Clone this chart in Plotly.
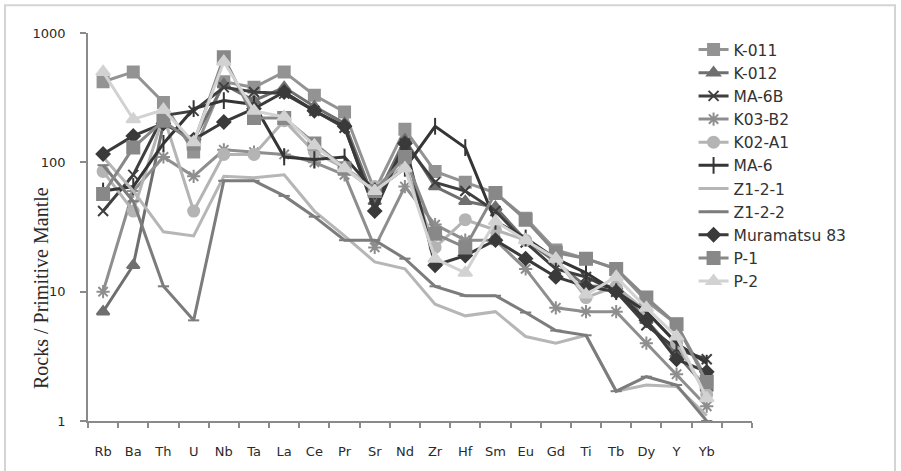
import plotly.graph_objects as go

# Trace elements, normalised to primitive mantle
elements = ["Rb", "Ba", "Th", "U", "Nb", "Ta", "La", "Ce", "Pr", "Sr", "Nd",
            "Zr", "Hf", "Sm", "Eu", "Gd", "Ti", "Tb", "Dy", "Y", "Yb"]

k_011 = [420, 500, 290, 120, 420, 380, 500, 330, 245, 60, 180, 85, 70, 58, 37, 21, 18, 15, 8.5, 5.6, 2.1]
k_012 = [7, 16, 200, 150, 400, 300, 380, 270, 200, 50, 150, 65, 50, 45, 25, 17, 11, 11, 6, 3.3, 1.8]
ma_6b = [42, 80, 230, 250, 380, 350, 340, 250, 185, 45, 140, 70, 60, 42, 24, 15, 13, 10, 5.5, 3.6, 3.0]
k03_b2 = [10, 60, 110, 78, 125, 120, 115, 100, 80, 22, 65, 33, 25, 25, 15, 7.5, 7, 7, 4, 2.3, 1.3]
k02_a1 = [85, 42, 230, 42, 115, 115, 210, 120, 90, 65, 95, 22, 36, 30, 25, 18, 9, 11, 7, 4, 1.6]
ma_6 = [60, 65, 140, 260, 300, 280, 110, 105, 110, 60, 90, 190, 130, 35, 26, 18, 14, 10, 7, 4, 2.8]
z1_2_1 = [110, 60, 29, 27, 78, 76, 80, 42, 27, 17, 15, 8, 6.5, 7, 4.5, 4, 4.6, 1.7, 1.9, 1.85, 1.1]
z1_2_2 = [95, 50, 11, 6, 72, 72, 55, 38, 25, 25, 18, 11, 9.3, 9.3, 6.9, 5, 4.6, 1.7, 2.2, 1.9, 1.0]
muramatsu_83 = [116, 160, 200, 150, 205, 260, 350, 250, 190, 42, 140, 16, 19, 25, 18, 13, 11, 10, 6, 3, 2.4]
p_1 = [57, 130, 210, 140, 650, 220, 220, 140, 90, 60, 110, 28, 22, 58, 36, 20, 18, 15, 9, 5.6, 2.0]
p_2 = [500, 215, 255, 143, 600, 250, 225, 135, 90, 60, 90, 18, 14, 35, 25, 18, 9.5, 13, 7.5, 4.5, 1.5]

series = [
    ("K-011", k_011, "#939393", "square", 11),
    ("K-012", k_012, "#6f6f6f", "triangle-up", 11),
    ("MA-6B", ma_6b, "#3f3f3f", "x-thin-open", 10),
    ("K03-B2", k03_b2, "#8e8e8e", "asterisk-open", 11),
    ("K02-A1", k02_a1, "#b4b4b4", "circle", 11),
    ("MA-6", ma_6, "#353535", "line-ns-open", 12),
    ("Z1-2-1", z1_2_1, "#b6b6b6", None, 0),
    ("Z1-2-2", z1_2_2, "#7c7c7c", "line-ew-open", 8),
    ("Muramatsu 83", muramatsu_83, "#3a3a3a", "diamond", 10),
    ("P-1", p_1, "#888888", "square", 12),
    ("P-2", p_2, "#d2d2d2", "triangle-up", 12),
]

x_pos = list(range(len(elements)))

fig = go.Figure()
for name, vals, color, symbol, size in series:
    if symbol is None:
        fig.add_trace(go.Scatter(x=x_pos, y=vals, name=name, mode="lines",
                                 line=dict(color=color, width=3)))
    else:
        fig.add_trace(go.Scatter(
            x=x_pos, y=vals, name=name, mode="lines+markers",
            line=dict(color=color, width=3),
            marker=dict(symbol=symbol, size=size, color=color,
                        line=dict(color=color, width=2)),
        ))

axis_font = dict(family="DejaVu Sans", size=13, color="#2a2a2a")

fig.update_layout(
    width=901, height=471,
    margin=dict(l=88, r=149, t=33, b=47),
    paper_bgcolor="white", plot_bgcolor="white",
    showlegend=True,
    legend=dict(
        x=0.912, y=1.0, xanchor="left", yanchor="top",
        font=dict(family="DejaVu Sans", size=15.5, color="#333333"),
        bgcolor="rgba(255,255,255,0)", itemwidth=30,
        tracegroupgap=0,
    ),
    xaxis=dict(
        range=[-0.5, 21.5], tickmode="array", tickvals=x_pos, ticktext=elements,
        ticks="", showgrid=False, zeroline=False,
        showline=True, linecolor="#8a8a8a", linewidth=1.5,
        tickfont=axis_font, ticklabelstandoff=18,
        minor=dict(tickmode="linear", tick0=-0.5, dtick=1, ticks="outside",
                   ticklen=5, tickcolor="#8a8a8a", tickwidth=1.5, showgrid=False),
    ),
    yaxis=dict(
        type="log", range=[0, 3], tickmode="array",
        tickvals=[1, 10, 100, 1000], ticktext=["1", "10", "100", "1000"],
        ticks="outside", ticklen=6, tickcolor="#8a8a8a", tickwidth=1.5,
        showgrid=False, zeroline=False,
        showline=True, linecolor="#8a8a8a", linewidth=1.5,
        tickfont=axis_font, ticklabelstandoff=12,
    ),
    annotations=[dict(
        text="Rocks / Primitive Mantle", textangle=-90,
        xref="paper", yref="paper",
        x=(28 - 88) / 664, y=(424 - 290) / 391,
        showarrow=False,
        font=dict(family="Liberation Serif", size=20, color="#2a2a2a"),
    )],
    shapes=[dict(
        type="rect", xref="paper", yref="paper",
        x0=(5 - 88) / 664, x1=(895 - 88) / 664,
        y0=(424 - 480) / 391, y1=(424 - 5) / 391,
        line=dict(color="#d4d4d4", width=2), fillcolor="rgba(0,0,0,0)",
    )],
)

fig.write_html("out.html")
